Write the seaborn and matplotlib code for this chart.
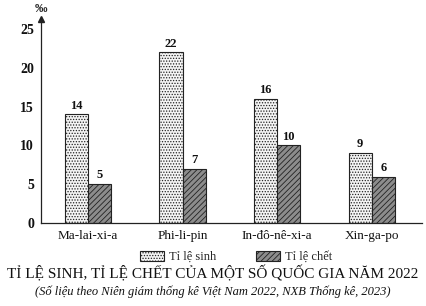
import matplotlib
matplotlib.use("Agg")
import matplotlib.pyplot as plt
import seaborn as sns
import pandas as pd
from matplotlib.patches import Patch

countries = ["Ma-lai-xi-a", "Phi-li-pin", "In-đô-nê-xi-a", "Xin-ga-po"]
birth_rate = [14, 22, 16, 9]
death_rate = [5, 7, 10, 6]
series_names = ["Tỉ lệ sinh", "Tỉ lệ chết"]
y_ticks = [0, 5, 10, 15, 20, 25]
unit_label = "‰"
title = "TỈ LỆ SINH, TỈ LỆ CHẾT CỦA MỘT SỐ QUỐC GIA NĂM 2022"
subtitle = "(Số liệu theo Niên giám thống kê Việt Nam 2022, NXB Thống kê, 2023)"

df = pd.DataFrame({
    "country": countries * 2,
    "value": birth_rate + death_rate,
    "series": [series_names[0]] * len(countries) + [series_names[1]] * len(countries),
})

sns.set_theme(style="white")
plt.rcParams["font.family"] = ["Liberation Serif", "DejaVu Serif"]
plt.rcParams["hatch.linewidth"] = 0.6

fig = plt.figure(figsize=(4.26, 3.06), dpi=100)
ax = fig.add_axes([0.096, 0.271, 0.894, 0.667])

sns.barplot(data=df, x="country", y="value", hue="series", order=countries,
            hue_order=series_names, palette=["#f4f4f4", "#8c8c8c"],
            width=0.49, gap=0, edgecolor="#222222", linewidth=0.8,
            legend=False, ax=ax)

hatches = ["......", "//////"]
for cont, h in zip(ax.containers, hatches):
    for bar in cont:
        bar.set_hatch(h)
    ax.bar_label(cont, padding=2, fontsize=9, fontweight="bold", color="#111111")

ax.set_xlim(-0.5, 3.53)
ax.set_ylim(0, 26.3)
ax.set_yticks(y_ticks)
ax.set_xlabel("")
ax.set_ylabel("")
for s in ["top", "right"]:
    ax.spines[s].set_visible(False)
for s in ["left", "bottom"]:
    ax.spines[s].set_color("#222222")
    ax.spines[s].set_linewidth(0.9)
ax.tick_params(axis="both", direction="out", length=3, width=0.8, color="#222222",
               labelcolor="#111111", pad=2)
ax.tick_params(axis="y", labelsize=10)
ax.tick_params(axis="x", labelsize=9.5)
for lab in ax.get_yticklabels():
    lab.set_fontweight("bold")

# arrow at top of y axis
ax.plot([0], [1.0], marker="^", markersize=4, color="#222222",
        transform=ax.transAxes, clip_on=False)
fig.text(0.096, 0.972, unit_label, ha="center", va="center",
         fontsize=9, fontweight="bold", family=["Liberation Serif", "DejaVu Sans"])

handles = [Patch(facecolor="#f4f4f4", edgecolor="#222222", hatch="......", linewidth=0.8),
           Patch(facecolor="#8c8c8c", edgecolor="#222222", hatch="//////", linewidth=0.8)]
fig.legend(handles, series_names, loc="center", bbox_to_anchor=(0.555, 0.16), ncol=2,
           frameon=False, fontsize=9, handlelength=1.9, handleheight=0.8,
           columnspacing=3.2, handletextpad=0.4)

fig.text(0.5, 0.105, title, ha="center", va="center", fontsize=11, color="#111111")
fig.text(0.5, 0.045, subtitle, ha="center", va="center", fontsize=9,
         style="italic", color="#111111")

fig.savefig("out.png", dpi=100)
